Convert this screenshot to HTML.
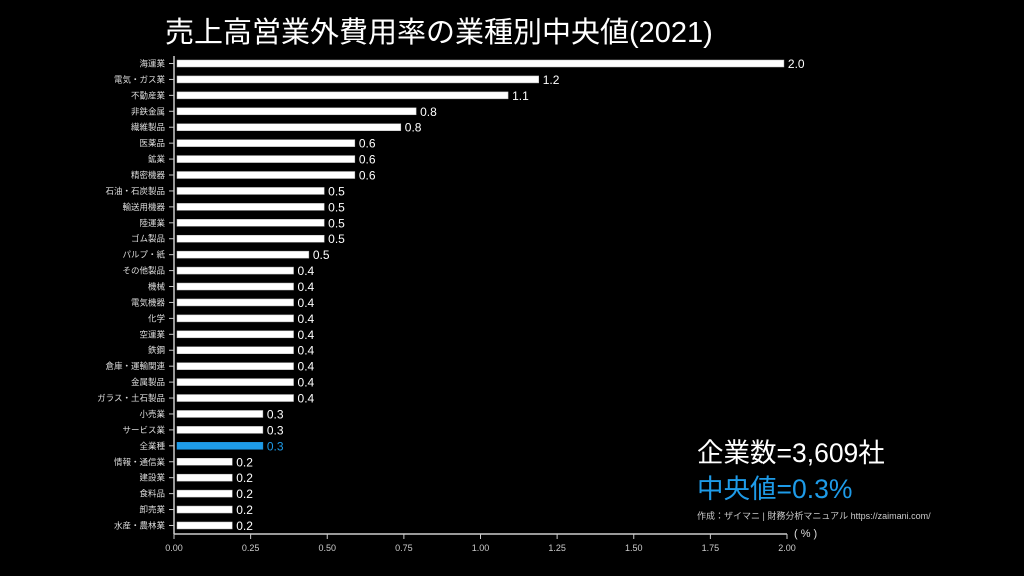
<!DOCTYPE html>
<html><head><meta charset="utf-8"><style>
html,body{margin:0;padding:0;background:#000;width:1024px;height:576px;overflow:hidden}
svg{display:block;font-family:"Liberation Sans","Noto Sans CJK JP",sans-serif}
</style></head><body>
<svg id="chart" width="1024" height="576">
<text x="165" y="42" font-size="29" fill="#fff">売上高営業外費用率の業種別中央値(2021)</text>
<text x="697" y="462" font-size="26.5" fill="#fff">企業数=3,609社</text>
<text x="697" y="498" font-size="26.5" fill="#1e9be8">中央値=0.3%</text>
<text x="697" y="519" font-size="9" fill="#ccc">作成：ザイマニ | 財務分析マニュアル https://zaimani.com/</text>
<text x="794" y="537" font-size="11" fill="#ddd">( % )</text>
</svg>
<script>
const categories=["海運業","電気・ガス業","不動産業","非鉄金属","繊維製品","医薬品","鉱業","精密機器","石油・石炭製品","輸送用機器","陸運業","ゴム製品","パルプ・紙","その他製品","機械","電気機器","化学","空運業","鉄鋼","倉庫・運輸関連","金属製品","ガラス・土石製品","小売業","サービス業","全業種","情報・通信業","建設業","食料品","卸売業","水産・農林業"];
const values=[1.99,1.19,1.09,0.79,0.74,0.59,0.59,0.59,0.49,0.49,0.49,0.49,0.44,0.39,0.39,0.39,0.39,0.39,0.39,0.39,0.39,0.39,0.29,0.29,0.29,0.19,0.19,0.19,0.19,0.19];
const labels=["2.0","1.2","1.1","0.8","0.8","0.6","0.6","0.6","0.5","0.5","0.5","0.5","0.5","0.4","0.4","0.4","0.4","0.4","0.4","0.4","0.4","0.4","0.3","0.3","0.3","0.2","0.2","0.2","0.2","0.2"];
const ticks=[0,0.25,0.5,0.75,1,1.25,1.5,1.75,2];
const tickLabels=["0.00","0.25","0.50","0.75","1.00","1.25","1.50","1.75","2.00"];
const highlight="全業種";
const svg=document.getElementById('chart');const NS="http://www.w3.org/2000/svg";
const x=v=>174+v*306.5;
const y=i=>63.5+i*15.93;
function mk(t,a,txt){const e=document.createElementNS(NS,t);for(const k in a)e.setAttribute(k,a[k]);if(txt!=null)e.textContent=txt;svg.appendChild(e);return e;}
let e=mk('line',{x1:174,y1:56,x2:174,y2:534,stroke:'#ccc','stroke-width':1.5});


e=mk('line',{x1:174,y1:534,x2:x(2),y2:534,stroke:'#ccc','stroke-width':1.5});


ticks.forEach((t,i)=>{
 let l=mk('line',{x1:x(t),y1:534,x2:x(t),y2:539,stroke:'#ccc','stroke-width':1});
 
 
 let tx=mk('text',{x:x(t),y:551,'font-size':9,fill:'#ccc','text-anchor':'middle'},tickLabels[i]);
 
 
});
categories.forEach((c,i)=>{
 const hl=c===highlight;const col=hl?'#1e9be8':'#fff';
 let l=mk('line',{x1:169,y1:y(i),x2:174,y2:y(i),stroke:'#ccc','stroke-width':1});
 
 
 let t=mk('text',{x:165,y:y(i)+3,'font-size':8.5,fill:'#ddd','text-anchor':'end'},c);
 
 
 let r=mk('rect',{x:177,y:y(i)-3.5,width:Math.max(0,x(values[i])-177),height:7,fill:col,stroke:hl?'#1e9be8':'#bbb','stroke-width':0.5});
 
 
 let v=mk('text',{x:x(values[i])+4,y:y(i)+4.5,'font-size':12,fill:col},labels[i]);
 
 
});
</script>
</body></html>
